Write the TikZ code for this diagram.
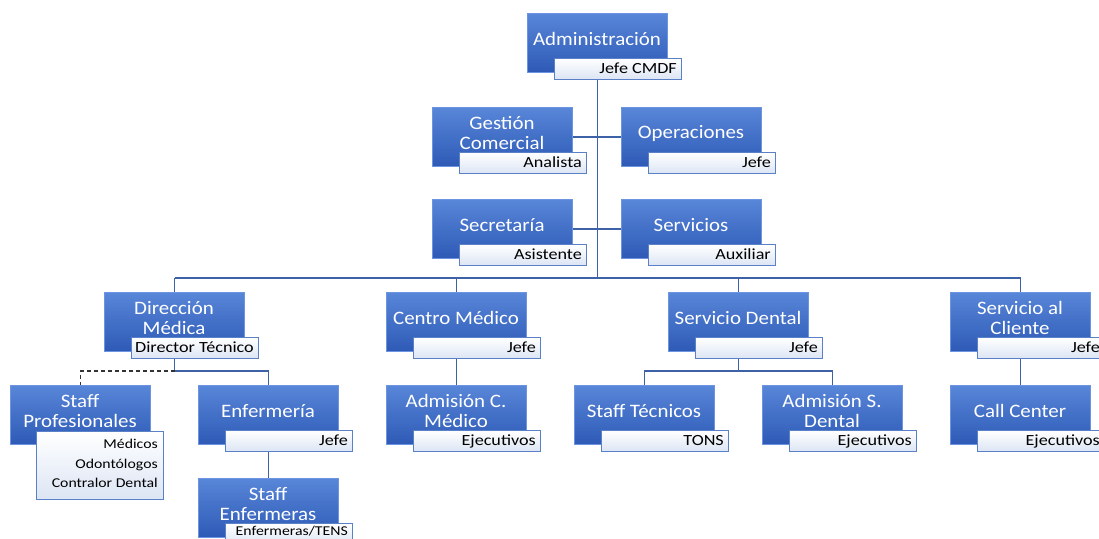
\documentclass[tikz,border=0pt]{standalone}
\usepackage{fontspec}
\setmainfont{Carlito}
\newfontfamily\mainf{Carlito}[FakeStretch=1.1]
\newfontfamily\subf{Carlito}[FakeStretch=1.17]
\usetikzlibrary{backgrounds,calc}
\definecolor{boxtop}{RGB}{88,134,216}
\definecolor{boxbot}{RGB}{46,90,182}
\definecolor{boxedge}{RGB}{108,148,224}
\definecolor{subedge}{RGB}{90,128,200}
\definecolor{subbot}{RGB}{220,229,244}
\definecolor{conn}{RGB}{62,98,168}
\tikzset{
  mainbox/.style={draw=boxedge, line width=1pt, top color=boxtop, bottom color=boxbot,
    minimum width=140pt, minimum height=59pt, inner sep=0pt, anchor=north west},
  subbox/.style={draw=subedge, line width=1pt, top color=white, bottom color=subbot,
    minimum width=127pt, minimum height=21pt, inner sep=0pt, anchor=north west},
  maintext/.style={text=white, font=\mainf\fontsize{19}{20}\selectfont, align=center, inner sep=0pt},
  subtext/.style={text=black, font=\subf\fontsize{15.5}{20}\selectfont, inner sep=0pt, anchor=base east},
  smalltext/.style={subtext, font=\subf\fontsize{13.5}{20}\selectfont},
  link/.style={draw=conn, line width=1.5pt},
  dashlink/.style={draw=black!80, line width=1.3pt, dash pattern=on 4pt off 3pt},
}
\newcommand\orgnode[6][subtext]{%
  \node[mainbox] (#2) at (#3,#4) {};
  \node[subbox] (#2s) at ({#3+27},{#4+45}) {};
  \node[maintext] (#2t) at ({#3+70},{#4+26}) {#5};
  \node[#1] (#2l) at ($(#2s.east)+(-5,4.5)$) {#6};
}
\begin{document}
\begin{tikzpicture}[x=1pt, y=-1pt]
\useasboundingbox (0,0) rectangle (1099,538);
\clip (0,0) rectangle (1099,538);
\orgnode{adm}{527}{13}{Administración}{Jefe CMDF}
\orgnode{gc}{432}{107}{Gestión\\Comercial}{Analista}
\orgnode{op}{621}{107}{Operaciones}{Jefe}
\orgnode{sec}{432}{199}{Secretaría}{Asistente}
\orgnode{serv}{621}{199}{Servicios}{Auxiliar}
\orgnode{dm}{104}{292}{Dirección\\Médica}{Director Técnico}
\orgnode{cm}{386}{292}{Centro Médico}{Jefe}
\orgnode{sd}{668}{292}{Servicio Dental}{Jefe}
\orgnode{sc}{950}{292}{Servicio al\\Cliente}{Jefe}
\orgnode{enf}{198}{385}{Enfermería}{Jefe}
\orgnode{acm}{386}{385}{Admisión C.\\Médico}{Ejecutivos}
\orgnode{st}{574}{385}{Staff Técnicos}{TONS}
\orgnode{asd}{762}{385}{Admisión S.\\Dental}{Ejecutivos}
\orgnode{cc}{950}{385}{Call Center}{Ejecutivos}
\orgnode[smalltext,yshift=3.5pt]{senf}{198}{478}{Staff\\Enfermeras}{Enfermeras/TENS}
% Staff Profesionales
\node[mainbox] (sp) at (10,385) {};
\node[subbox, minimum height=68pt] (sps) at (36,431) {};
\node[maintext] (spt) at (80,411) {Staff\\Profesionales};
\node[smalltext] (spl1) at (158,448) {Médicos};
\node[smalltext] (spl2) at (158,468) {Odontólogos};
\node[smalltext] (spl3) at (158,487) {Contralor Dental};
\begin{scope}[on background layer]
  \coordinate (bus) at (597,278);
  \coordinate (dmj) at (173,371);
  \coordinate (sdj) at (738,371);
  \draw[link] (adm.center) -- (adm.center |- bus);
  \draw[link] (gc.center) -- (op.center);
  \draw[link] (sec.center) -- (serv.center);
  \draw[link] (dm.center |- bus) -- (sc.center |- bus);
  \foreach \n in {dm,cm,sd,sc} \draw[link] (\n.center |- bus) -- (\n.north);
  \draw[link] (dm.center) -- (dm.center |- dmj) -| (enf.north);
  \draw[dashlink] (dm.center |- dmj) -| (sp.north);
  \draw[link] (sd.center) -- (sd.center |- sdj);
  \draw[link] (st.north) |- (sd.center |- sdj) -| (asd.north);
  \draw[link] (cm.center) -- (acm.north);
  \draw[link] (sc.center) -- (cc.north);
  \draw[link] (enf.center) -- (senf.north);
\end{scope}
\end{tikzpicture}
\end{document}
